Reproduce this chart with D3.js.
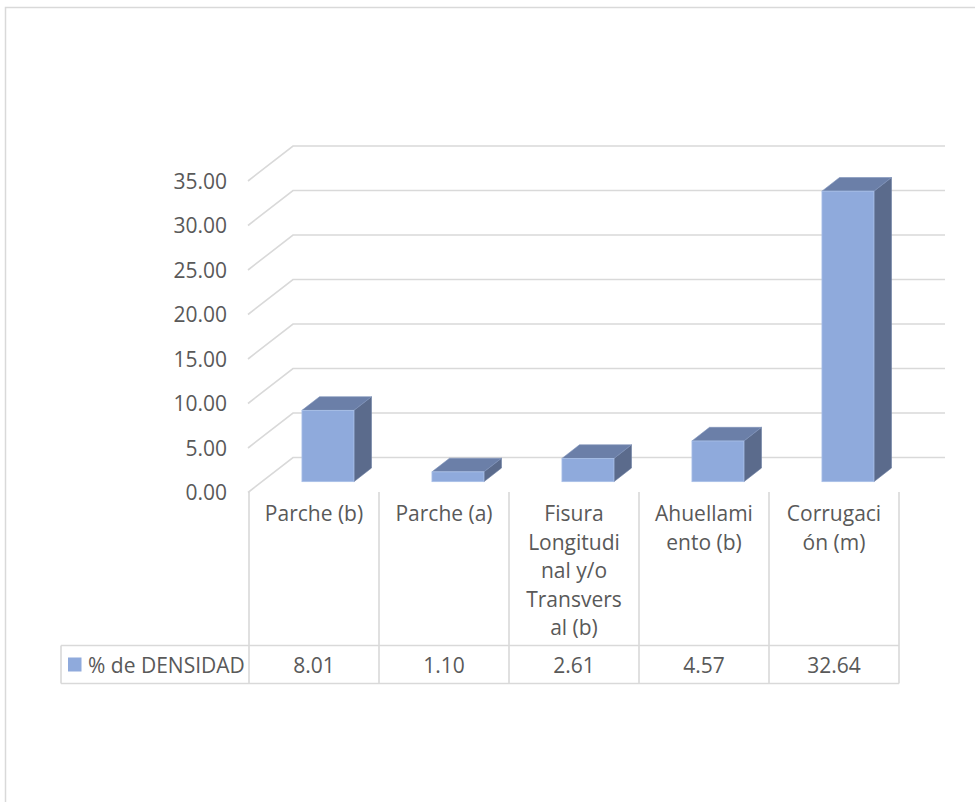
<!DOCTYPE html>
<html>
<head>
<meta charset="utf-8">
<script src="https://cdn.jsdelivr.net/npm/d3@7"></script>
<style>
  html, body { margin: 0; padding: 0; background: #fff; }
  svg { display: block; }
  text { font-family: "Open Sans", "Noto Sans", sans-serif; fill: #595959; }
</style>
</head>
<body>
<svg id="chart" width="975" height="802"></svg>
<script>
// Categories, wrapped label lines and the series values
const categories = [
  "Parche (b)",
  "Parche (a)",
  "Fisura Longitudinal y/o Transversal (b)",
  "Ahuellamiento (b)",
  "Corrugación (m)"
];
const categoryLines = [
  ["Parche (b)"],
  ["Parche (a)"],
  ["Fisura", "Longitudi", "nal y/o", "Transvers", "al (b)"],
  ["Ahuellami", "ento (b)"],
  ["Corrugaci", "ón (m)"]
];
const seriesName = "% de DENSIDAD";
const densidad = [8.01, 1.10, 2.61, 4.57, 32.64];
const yTicks = [0, 5, 10, 15, 20, 25, 30, 35];

const svg = d3.select("#chart");
const fmt = d3.format(".2f");

// Layout
const plotLeft = 249, plotRight = 899;
const wallRight = 945;
const depth = { dx: 45, dy: -35 };   // floor depth, front edge to back wall
const barFront = 0.31, barBack = 0.70; // bar depth as fractions of the floor depth
const tableTop = 492, rowTop = 645.5, rowBottom = 683.5, legendLeft = 61;
const grid = "#d9d9d9";

const x = d3.scaleBand().domain(categories).range([plotLeft, plotRight])
  .paddingInner(0.6).paddingOuter(0.3);
const y = d3.scaleLinear().domain([0, 35]).range([492.5, 181]);
const gapHalf = (x.step() - x.bandwidth()) / 2;
const colLeft = c => x(c) - gapHalf;

// Outer chart border
svg.append("rect")
  .attr("x", 5.5).attr("y", 7.5).attr("width", 1000).attr("height", 1000)
  .attr("fill", "none").attr("stroke", grid).attr("stroke-width", 1.5);

// Side wall + back wall gridlines
svg.append("g").selectAll("path").data(yTicks).join("path")
  .attr("d", v => {
    const yf = y(v);
    return `M${plotLeft - 1},${yf} L${plotLeft - 1 + depth.dx},${yf + depth.dy} L${wallRight},${yf + depth.dy}`;
  })
  .attr("fill", "none").attr("stroke", grid).attr("stroke-width", 1.6);

// Value axis labels
svg.append("g").selectAll("text").data(yTicks).join("text")
  .attr("x", 227).attr("y", v => y(v))
  .attr("dy", "0.36em")
  .attr("text-anchor", "end")
  .style("font-size", "21px")
  .text(v => fmt(v));

// 3D columns
const pt = (px, py) => px + "," + py;
const bars = svg.append("g").selectAll("g")
  .data(categories.map((c, i) => ({ c, v: densidad[i] })))
  .join("g");

bars.each(function(d) {
  const g = d3.select(this);
  const x0 = x(d.c) + depth.dx * barFront;
  const x1 = x0 + x.bandwidth();
  const yb = y(0) + depth.dy * barFront;
  const yt = y(d.v) + depth.dy * barFront;
  const ox = depth.dx * (barBack - barFront);
  const oy = depth.dy * (barBack - barFront);
  // side face
  g.append("polygon")
    .attr("points", [pt(x1, yt), pt(x1 + ox, yt + oy), pt(x1 + ox, yb + oy), pt(x1, yb)].join(" "))
    .attr("fill", "#5b6b8c").attr("stroke", "#6d7fa3").attr("stroke-width", 0.6);
  // top face
  g.append("polygon")
    .attr("points", [pt(x0, yt), pt(x0 + ox, yt + oy), pt(x1 + ox, yt + oy), pt(x1, yt)].join(" "))
    .attr("fill", "#6b7fa8").attr("stroke", "#7d92bb").attr("stroke-width", 0.6);
  // front face
  g.append("rect")
    .attr("x", x0).attr("y", yt).attr("width", x1 - x0).attr("height", yb - yt)
    .attr("fill", "#8faadc").attr("stroke", "#a9c0e8").attr("stroke-width", 0.8);
});

// Data table
const table = svg.append("g");
const colEdges = categories.map(colLeft).concat([plotRight]);
table.selectAll("line.v").data(colEdges).join("line")
  .attr("x1", d => d).attr("x2", d => d)
  .attr("y1", tableTop).attr("y2", rowBottom)
  .attr("stroke", grid).attr("stroke-width", 1.6);
table.selectAll("line.h").data([rowTop, rowBottom]).join("line")
  .attr("x1", legendLeft).attr("x2", plotRight)
  .attr("y1", d => d).attr("y2", d => d)
  .attr("stroke", grid).attr("stroke-width", 1.6);
table.append("line")
  .attr("x1", legendLeft).attr("x2", legendLeft)
  .attr("y1", rowTop).attr("y2", rowBottom)
  .attr("stroke", grid).attr("stroke-width", 1.6);

// Category labels (wrapped)
const lineH = 28.5;
table.selectAll("text.cat").data(categories).join("text")
  .attr("class", "cat")
  .attr("text-anchor", "middle")
  .style("font-size", "21px")
  .each(function(c, i) {
    const cx = colLeft(c) + x.step() / 2;
    d3.select(this).selectAll("tspan").data(categoryLines[i]).join("tspan")
      .attr("x", cx)
      .attr("y", (l, j) => 521 + j * lineH)
      .text(l => l);
  });

// Legend key + series name
table.append("rect")
  .attr("x", 68).attr("y", 657.5).attr("width", 13.5).attr("height", 14)
  .attr("fill", "#8faadc");
table.append("text")
  .attr("x", 88).attr("y", 672.5)
  .style("font-size", "21px")
  .text(seriesName);

// Values row
table.selectAll("text.val").data(categories).join("text")
  .attr("class", "val")
  .attr("x", c => colLeft(c) + x.step() / 2)
  .attr("y", 672.5)
  .attr("text-anchor", "middle")
  .style("font-size", "21px")
  .text((c, i) => fmt(densidad[i]));
</script>
</body>
</html>
